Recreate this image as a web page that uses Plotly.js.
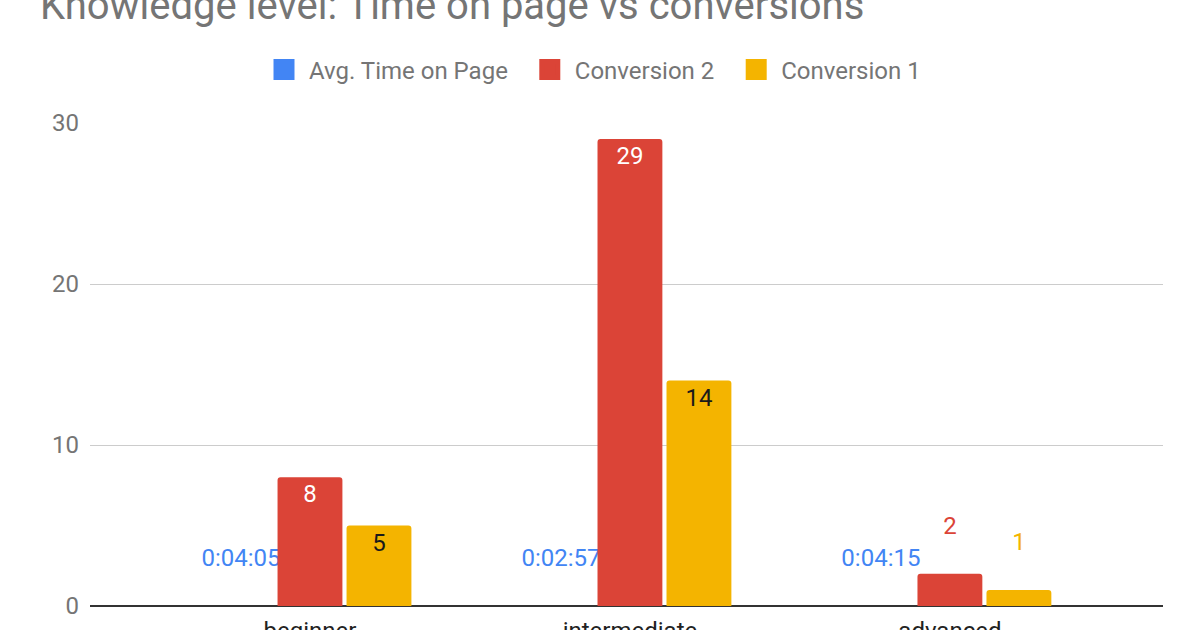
<!DOCTYPE html>
<html>
<head>
<meta charset="utf-8">
<script src="https://cdn.plot.ly/plotly-3.0.1.min.js"></script>
<style>
  html, body { margin: 0; padding: 0; background: #fff; }
  #chart { width: 1200px; height: 630px; }
</style>
</head>
<body>
<div id="chart"></div>
<script>
// data -------------------------------------------------------------------------
var levels = ["beginner", "intermediate", "advanced"];
var avgTimeLabels = ["0:04:05", "0:02:57", "0:04:15"];
var avgTimeSec = [245, 177, 255];
var conversion2 = [8, 29, 2];
var conversion1 = [5, 14, 1];

var blue = "#4285F4", red = "#DB4437", yellow = "#F4B400";
var grey = "#757575";
var fs = 24;

// durations are plotted as fraction of a day, like the sheet does
var avgTimeDays = avgTimeSec.map(function (s) { return s / 86400; });

// small bars get their label outside, lifted by an empty second line
function labels(vals, minInside) {
	return vals.map(function (v) { return v < minInside ? v + "<br>&nbsp;" : String(v); });
}
function positions(vals, minInside) {
	return vals.map(function (v) { return v < minInside ? "outside" : "inside"; });
}

var traceTime = {
	type: "bar",
	name: "Avg. Time on Page",
	x: levels,
	y: avgTimeDays,
	marker: { color: blue },
	text: avgTimeLabels.map(function (t) { return t + "<br>&nbsp;"; }),
	textposition: "outside",
	constraintext: "none",
	outsidetextfont: { color: blue, size: fs },
	showlegend: false,
	hoverinfo: "skip",
};

var traceConv2 = {
	type: "bar",
	name: "Conversion 2",
	x: levels,
	y: conversion2,
	marker: { color: red },
	text: labels(conversion2, 3),
	textposition: positions(conversion2, 3),
	insidetextanchor: "end",
	constraintext: "none",
	insidetextfont: { color: "#ffffff", size: fs },
	outsidetextfont: { color: red, size: fs },
	showlegend: false,
};

var traceConv1 = {
	type: "bar",
	name: "Conversion 1",
	x: levels,
	y: conversion1,
	marker: { color: yellow },
	text: labels(conversion1, 3),
	textposition: positions(conversion1, 3),
	insidetextanchor: "end",
	constraintext: "none",
	insidetextfont: { color: "#1a1a1a", size: fs },
	outsidetextfont: { color: yellow, size: fs },
	showlegend: false,
};

// legend only entries (bigger square swatches than bar icons)
function legendEntry(name, color) {
	return {
		type: "scatter",
		mode: "markers",
		name: name,
		x: [null],
		y: [null],
		marker: { symbol: "square", size: 16, color: color, line: { width: 5, color: color } },
		hoverinfo: "skip",
	};
}

var pad = "&nbsp;&nbsp;";
var data = [
	traceTime, traceConv2, traceConv1,
	legendEntry("Avg. Time on Page" + pad, blue),
	legendEntry("Conversion 2" + pad, red),
	legendEntry("Conversion 1", yellow),
];

var layout = {
	width: 1200,
	height: 630,
	paper_bgcolor: "#ffffff",
	plot_bgcolor: "#ffffff",
	font: { family: "Roboto, Arial, sans-serif", color: grey, size: fs },
	title: {
		text: "Knowledge level: Time on page vs conversions",
		font: { size: 40, color: grey },
		x: 40 / 1200,
		xanchor: "left",
		xref: "container",
		y: 1 - 5 / 630,
		yanchor: "middle",
		yref: "container",
	},
	margin: { l: 90, r: 37, t: 123, b: 24, pad: 0 },
	barmode: "group",
	bargap: 0.353,
	bargroupgap: 0.06,
	barcornerradius: 3,
	showlegend: true,
	legend: {
		orientation: "h",
		x: 0.5 - 34 / 1073,
		xanchor: "center",
		y: 1 + 53 / 483,
		yanchor: "middle",
		font: { size: fs, color: grey },
		itemwidth: 40,
		traceorder: "normal",
	},
	xaxis: {
		type: "category",
		range: [-0.6875, 2.666],
		showgrid: false,
		showline: false,
		zeroline: false,
		ticks: "",
		tickfont: { size: fs, color: "#222222" },
		ticklabelstandoff: 8,
		fixedrange: true,
	},
	yaxis: {
		range: [0, 30],
		tickvals: [0, 10, 20, 30],
		showgrid: true,
		gridcolor: "#cccccc",
		gridwidth: 1,
		zeroline: true,
		zerolinecolor: "#333333",
		zerolinewidth: 2,
		showline: false,
		ticks: "",
		tickfont: { size: fs, color: grey },
		ticklabelstandoff: 10,
		fixedrange: true,
	},
};

Plotly.newPlot("chart", data, layout, { displayModeBar: false, staticPlot: true });
</script>
</body>
</html>
